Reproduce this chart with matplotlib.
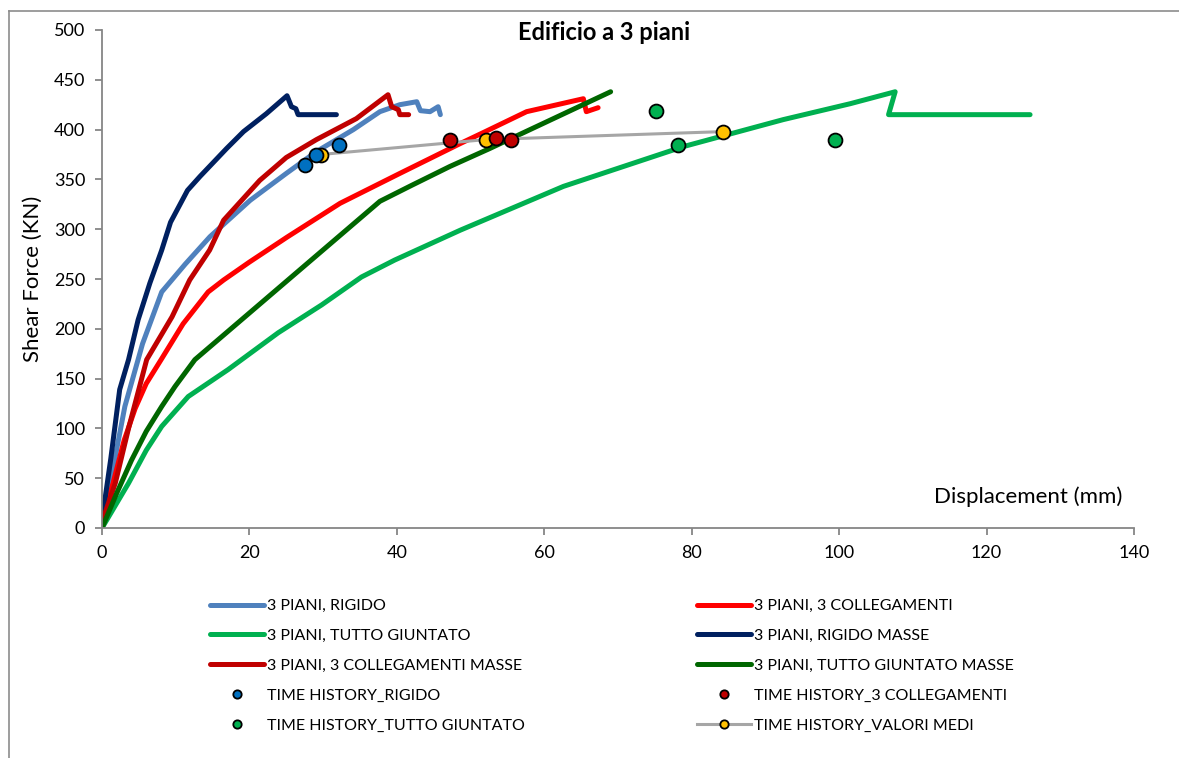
import matplotlib
matplotlib.use("Agg")
import matplotlib.pyplot as plt
from matplotlib.lines import Line2D

plt.rcParams['font.family'] = ['Lato', 'DejaVu Sans']

# Pushover curves (displacement mm, shear force kN)
rigido_x = [0, 1.5, 3.1, 5.5, 8.1, 11.3, 14.65, 20.1, 25.0, 29.1, 34.1, 37.7, 40.4, 42.7, 43.2, 44.5, 45.6, 45.9]
rigido_y = [5, 60, 122, 185, 237, 265, 292.5, 329, 356, 378, 400, 418, 425, 428, 419, 418, 423, 415]

coll_x = [0, 1.5, 3.0, 4.5, 6.0, 8.1, 11.0, 14.4, 16.5, 20.0, 25.1, 32.3, 40.4, 48.6, 52.0, 57.6, 65.3, 65.7, 67.3]
coll_y = [6, 45, 88, 120, 145, 170, 205, 237, 249, 267, 292, 326, 356, 386, 398, 418, 431, 418, 422]

giunt_x = [0, 3.6, 6.0, 8.1, 11.7, 17.1, 23.9, 29.8, 35.2, 39.7, 48.6, 62.6, 78.9, 92.4, 101.5, 107.6, 106.7, 125.9]
giunt_y = [0, 45, 78, 102, 132, 159, 196, 224, 252, 269, 299, 343, 383, 410, 426, 438, 415, 415]

rigido_m_x = [0, 1.2, 2.4, 3.6, 4.9, 6.5, 8.1, 9.3, 11.6, 13.3, 16.9, 19.2, 22.3, 25.1, 25.7, 26.3, 26.6, 31.8]
rigido_m_y = [8, 70, 139, 169, 209, 246, 279, 307, 339, 353, 381, 398, 416, 434, 423, 421, 415, 415]

coll_m_x = [0, 1.8, 3.6, 6.06, 9.5, 11.9, 14.6, 16.5, 21.4, 25.0, 29.1, 34.5, 38.8, 39.3, 40.2, 40.4, 41.6]
coll_m_y = [6, 45, 100, 169, 212, 249, 279, 309, 349, 372, 390, 411, 435, 423, 420, 415, 415]

giunt_m_x = [0, 2.0, 4.0, 6.0, 8.1, 9.9, 12.6, 37.7, 42.0, 47.2, 52.6, 69.0]
giunt_m_y = [0, 35, 68, 97, 122, 142, 169, 328, 344, 363, 381, 438]

# Time-history results
th_rig_x = [27.5, 29.0, 32.1]
th_rig_y = [364.5, 375, 385]
th_coll_x = [47.2, 53.5, 55.5]
th_coll_y = [390, 392, 390]
th_giunt_x = [75.2, 78.2, 99.5]
th_giunt_y = [419, 384.5, 390]
medi_x = [29.7, 52.1, 84.3]
medi_y = [375, 390, 398]

W, H = 1179, 758
fig = plt.figure(figsize=(W / 100, H / 100), dpi=100)
ax = fig.add_axes([102 / W, 1 - 528 / H, (1134 - 102) / W, (528 - 30) / H])

lw = 3.6
kw = dict(lw=lw, solid_capstyle='round', solid_joinstyle='round')
l1, = ax.plot(rigido_x, rigido_y, color='#4F81BD', label='3 PIANI, RIGIDO', **kw)
l2, = ax.plot(coll_x, coll_y, color='#FF0000', label='3 PIANI, 3 COLLEGAMENTI', **kw)
l3, = ax.plot(giunt_x, giunt_y, color='#00B050', label='3 PIANI, TUTTO GIUNTATO', **kw)
l4, = ax.plot(rigido_m_x, rigido_m_y, color='#002060', label='3 PIANI, RIGIDO MASSE', **kw)
l5, = ax.plot(coll_m_x, coll_m_y, color='#C00000', label='3 PIANI, 3 COLLEGAMENTI MASSE', **kw)
l6, = ax.plot(giunt_m_x, giunt_m_y, color='#006600', label='3 PIANI, TUTTO GIUNTATO MASSE', **kw)

mk = dict(marker='o', markersize=10, markeredgecolor='black', markeredgewidth=1.3)
l10, = ax.plot(medi_x, medi_y, color='#A6A6A6', lw=2.2, markerfacecolor='#FFC000',
               label='TIME HISTORY_VALORI MEDI', zorder=3, **mk)
l7, = ax.plot(th_rig_x, th_rig_y, ls='none', markerfacecolor='#0070C0',
              label='TIME HISTORY_RIGIDO', zorder=4, **mk)
l8, = ax.plot(th_coll_x, th_coll_y, ls='none', markerfacecolor='#C00000',
              label='TIME HISTORY_3 COLLEGAMENTI', zorder=4, **mk)
l9, = ax.plot(th_giunt_x, th_giunt_y, ls='none', markerfacecolor='#00B050',
              label='TIME HISTORY_TUTTO GIUNTATO', zorder=4, **mk)

ax.set_xlim(0, 140)
ax.set_ylim(0, 500)
ax.set_xticks(range(0, 141, 20))
ax.set_yticks(range(0, 501, 50))

spine_c = '#868686'
for s in ('top', 'right'):
    ax.spines[s].set_visible(False)
for s in ('left', 'bottom'):
    ax.spines[s].set_color(spine_c)
    ax.spines[s].set_linewidth(1.3)
ax.tick_params(axis='both', direction='out', length=5, width=1.3, color=spine_c,
               labelsize=13, labelcolor='black', pad=7)

ax.set_ylabel('Shear Force (KN)', fontsize=16)
ax.yaxis.set_label_coords(-0.057, 0.5)
ax.text(0.897, 0.062, 'Displacement (mm)', transform=ax.transAxes,
        ha='center', va='center', fontsize=16)
fig.text(604 / W, 1 - 32 / H, 'Edificio a 3 piani', ha='center', va='center',
         fontsize=17, fontweight='bold')

leg_kw = dict(loc='upper left', frameon=False, fontsize=11.5, handlelength=3.4,
              handletextpad=0.15, labelspacing=0.98, borderpad=0, borderaxespad=0,
              markerscale=0.6, numpoints=1)
leg1 = fig.legend(handles=[l1, l3, l5, l7, l9], bbox_to_anchor=(210 / W, 1 - 599 / H), **leg_kw)
leg2 = fig.legend(handles=[l2, l4, l6, l8, l10], bbox_to_anchor=(697 / W, 1 - 599 / H), **leg_kw)

# Outer chart frame
frame_c = '#8C8C8C'
fig.add_artist(Line2D([8.5 / W, 8.5 / W], [0, 1 - 11 / H], color=frame_c, lw=1.2,
                      transform=fig.transFigure))
fig.add_artist(Line2D([8.5 / W, 1], [1 - 11 / H, 1 - 11 / H], color=frame_c, lw=1.2,
                      transform=fig.transFigure))

fig.savefig('out.png', dpi=100)
